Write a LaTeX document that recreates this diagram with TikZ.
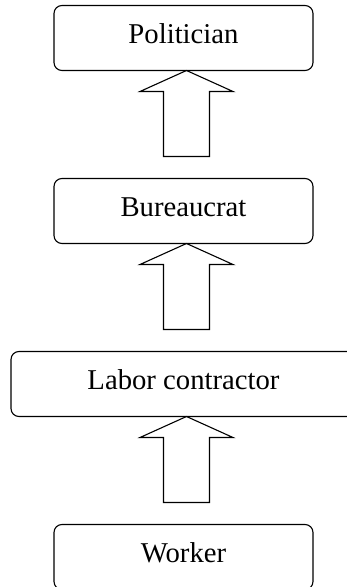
\documentclass[tikz,border=0pt]{standalone}
\usepackage{fontspec}
\setmainfont{Liberation Serif}
\usetikzlibrary{positioning}

\tikzset{
    rolebox/.style={draw, rounded corners=8pt, line width=1.1pt, minimum width=259pt,
        minimum height=65pt, inner sep=0pt, outer sep=0pt, text height=20pt, text depth=9pt,
        font=\fontsize{28.7}{34}\selectfont},
    hollowarrow/.style={draw, line width=1.1pt, line join=miter}
}

\begin{document}
\begin{tikzpicture}[x=1pt, y=1pt, node distance=108pt]
            \useasboundingbox (0,0) rectangle (346,587);
            \node[rolebox] (pol) at (183.5,549) {Politician};
            \node[rolebox, below=of pol] (bur) {Bureaucrat};
            \node[rolebox, below=of bur, minimum width=345pt] (lab) {Labor contractor};
            \node[rolebox, below=of lab] (wrk) {Worker};

            \foreach \top in {pol,bur,lab}
                {\draw[hollowarrow] ([xshift=3pt]\top.south) -- ++(-46.5,-21) -- ++(23.5,0) -- ++(0,-65)
                    -- ++(46,0) -- ++(0,65) -- ++(23.5,0) -- cycle;}
        \end{tikzpicture}
\end{document}
